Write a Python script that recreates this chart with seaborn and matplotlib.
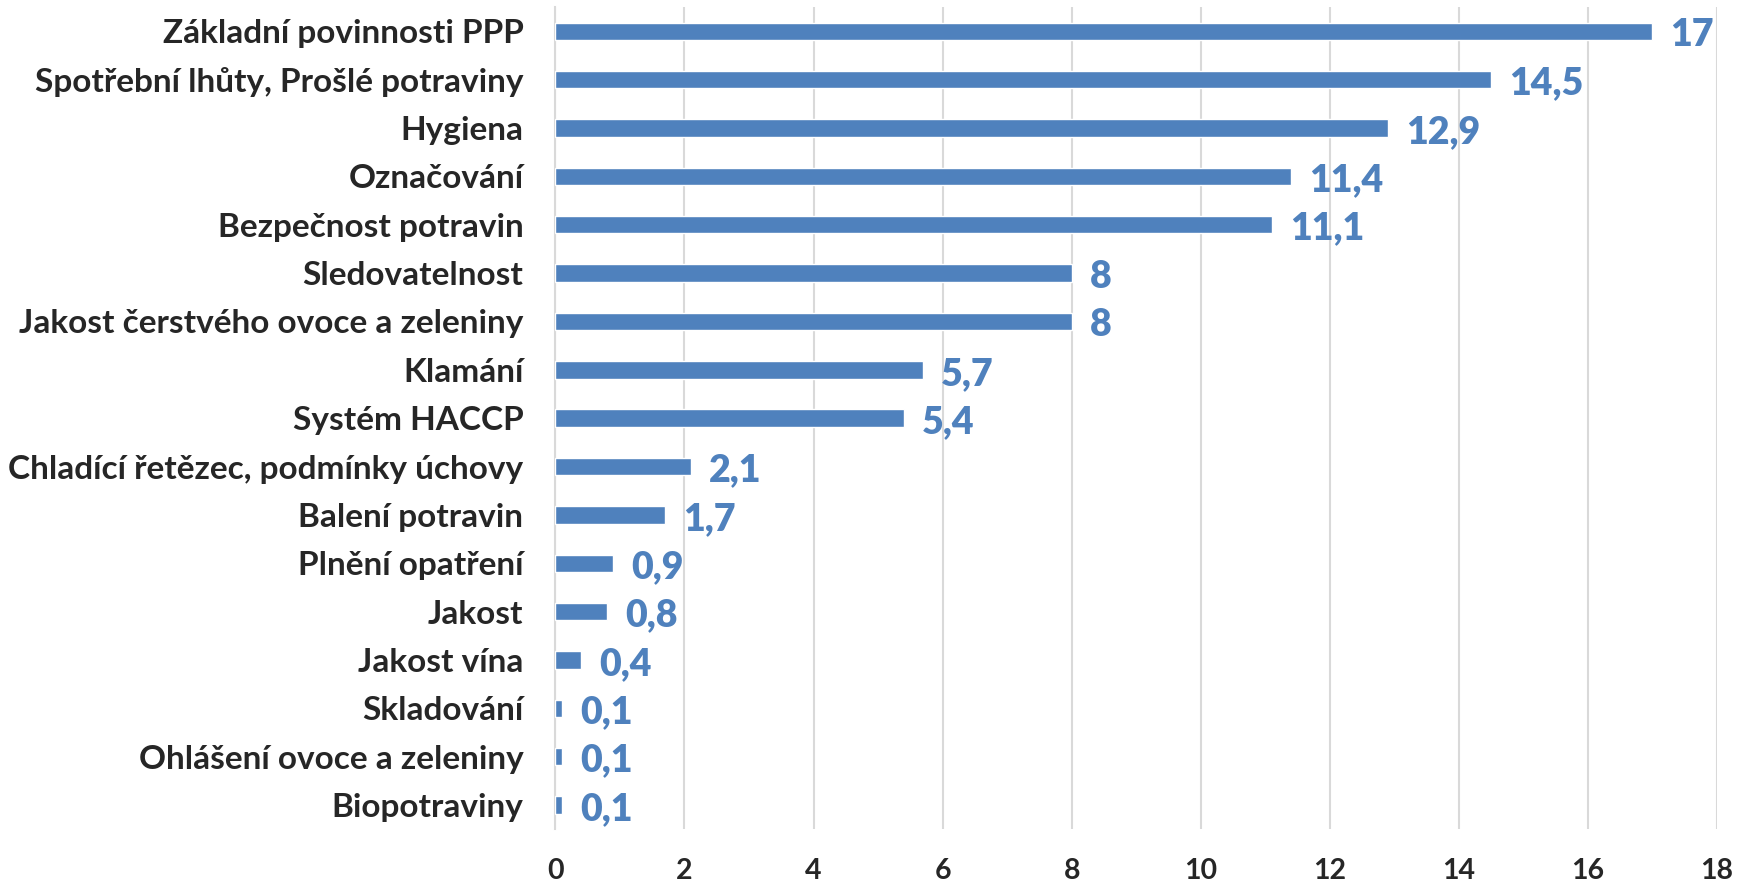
import pandas as pd
import matplotlib
matplotlib.use("Agg")
import matplotlib.pyplot as plt
import seaborn as sns

categories = [
    "Základní povinnosti PPP",
    "Spotřební lhůty, Prošlé potraviny",
    "Hygiena",
    "Označování",
    "Bezpečnost potravin",
    "Sledovatelnost",
    "Jakost čerstvého ovoce a zeleniny",
    "Klamání",
    "Systém HACCP",
    "Chladící řetězec, podmínky úchovy",
    "Balení potravin",
    "Plnění opatření",
    "Jakost",
    "Jakost vína",
    "Skladování",
    "Ohlášení ovoce a zeleniny",
    "Biopotraviny",
]
values = [17, 14.5, 12.9, 11.4, 11.1, 8, 8, 5.7, 5.4, 2.1, 1.7, 0.9, 0.8, 0.4, 0.1, 0.1, 0.1]
x_ticks = [0, 2, 4, 6, 8, 10, 12, 14, 16, 18]

df = pd.DataFrame({"category": categories, "value": values})

sns.set_style("white")
plt.rcParams["font.family"] = ["Lato", "DejaVu Sans"]

bar_color = "#4F81BD"

fig = plt.figure(figsize=(17.52, 8.86), dpi=100)
ax = fig.add_axes([0.317, 0.064, 0.663, 0.928])

sns.barplot(data=df, x="value", y="category", color=bar_color, width=0.36,
            saturation=1, ax=ax, zorder=3)

ax.set_xlim(0, 18)
ax.set_xticks(x_ticks)
ax.set_xticklabels([str(t) for t in x_ticks], fontsize=20.5, fontweight="bold")
ax.tick_params(axis="y", labelsize=24, length=0, pad=23)
ax.tick_params(axis="x", length=0, pad=21)
for lbl in ax.get_yticklabels():
    lbl.set_fontweight("bold")

ax.grid(axis="x", color="#D9D9D9", linewidth=1.5, zorder=0)
ax.set_axisbelow(True)
for side in ["top", "right", "bottom"]:
    ax.spines[side].set_visible(False)
ax.spines["left"].set_color("#D9D9D9")
ax.spines["left"].set_linewidth(1.5)

ax.set_xlabel("")
ax.set_ylabel("")

# value labels, Czech decimal comma
for i, v in enumerate(values):
    txt = f"{v:g}".replace(".", ",")
    ax.text(v + 0.28, i + 0.08, txt, color=bar_color, fontsize=27,
            fontweight="heavy", va="center", ha="left")

fig.savefig("out.png", dpi=100)
